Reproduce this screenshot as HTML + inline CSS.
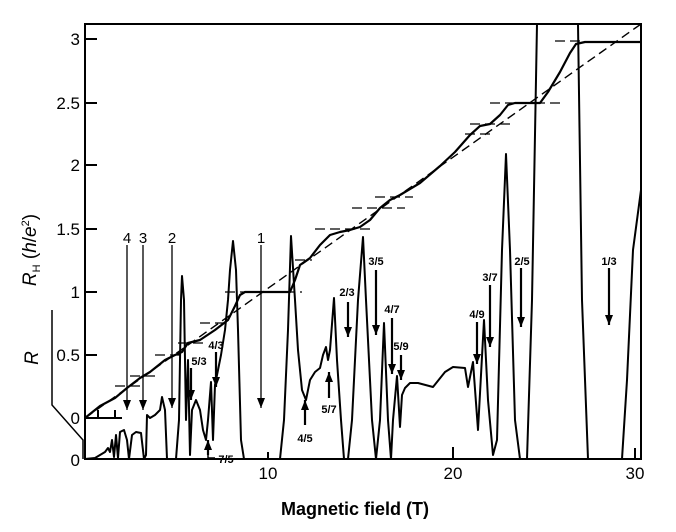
<!DOCTYPE html>
<html><head><style>
html,body{margin:0;padding:0;background:#fff;}
svg{display:block;font-family:"Liberation Sans",Arial,sans-serif;}
</style></head><body>
<svg width="676" height="532" viewBox="0 0 676 532" xmlns="http://www.w3.org/2000/svg">
<defs>
<marker id="ah" markerWidth="10" markerHeight="8" refX="10" refY="4" orient="auto" markerUnits="userSpaceOnUse" viewBox="0 0 10 8">
<path d="M0,0 L10,4 L0,8 Z" fill="#000"/></marker>
</defs>
<g fill="none" stroke="#000" stroke-width="2">
<path d="M85,24 H641 V459 H85 Z"/>
<path d="M85,39 H97 M85,103 H97 M85,165 H97 M85,229 H97 M85,292 H97 M85,355 H97 M85,418 H122 M98,418 V410 M115,418 V410"/>
<path d="M268,459 V452 M453,459 V447 M635,459 V448"/>
<path d="M52,310 V405 L83,440 V459" stroke-width="1.5"/>
</g>
<path d="M85,418 L641,24" stroke="#000" stroke-width="1.4" stroke-dasharray="9,5" fill="none"/>
<g stroke="#000" stroke-width="1.3" stroke-dasharray="10,5">
<path d="M115,386 H140 M130,376 H157 M155,355 H182 M178,343 H205 M200,323 H228 M225,292 H302 M295,260 H312 M315,229 H375 M352,208 H405 M375,197 H413 M465,134 H490 M470,124 H510 M490,103 H560 M555,41 H585"/>
</g>
<path fill="none" stroke="#000" stroke-width="2.2" stroke-linejoin="round" d="M85,418 L100,406 L115,398 L127,388 L140,378 L150,372 L165,360 L175,355 L182,352 L188,343 L200,340 L215,330 L228,320 L235,306 L240,295 L245,292 L290,292 L295,280 L300,265 L310,258 L320,245 L330,235 L340,232 L350,230 L360,227 L370,220 L380,208 L390,200 L400,195 L420,183 L440,166 L455,152 L470,135 L480,126 L490,124 L500,115 L508,105 L515,103 L540,103 L548,92 L560,72 L570,53 L576,44 L585,42 L641,42"/>
<path fill="none" stroke="#000" stroke-width="2" stroke-linejoin="round" d="M85,459 L95,458 L100,455 L105,452 L108,448 L110,452 L112,440 L114,457 L116,435 L118,458 L120,432 L124,430 L127,440 L129,459 L132,435 L136,432 L141,433 L144,459 L146,455 L147,415 L150,418 L155,415 L160,410 L162,397 L165,410 L167,459 L176,459 L179,420 L181,300 L182,276 L184,300 L186,420 L188,360 L190,455 L192,410 L196,400 L200,410 L203,430 L206,440 L208,420 L211,382 L213,440 L215,385 L218,370 L221,355 L225,330 L228,300 L230,270 L233,241 L236,270 L238,330 L241,440 L244,459 L280,459 L284,420 L288,330 L291,236 L295,300 L298,350 L302,390 L306,400 L310,380 L315,372 L320,368 L323,355 L326,347 L328,360 L330,350 L334,298 L337,360 L341,420 L344,459 L348,459 L352,420 L358,300 L363,237 L366,300 L372,420 L376,459 L380,420 L384,323 L388,420 L391,459 L393,420 L397,376 L400,427 L402,395 L405,388 L410,383 L418,383 L433,387 L445,372 L453,367 L465,368 L468,387 L473,362 L478,430 L484,320 L488,400 L493,455 L497,440 L502,250 L506,154 L510,250 L515,420 L520,459 L527,459 L532,300 L537,24 M578,24 L582,300 L588,459 L622,459 L627,380 L633,250 L641,190"/>
<g stroke="#000" stroke-width="1.3" marker-end="url(#ah)">
<line x1="127" y1="245" x2="127" y2="410"/>
<line x1="143" y1="245" x2="143" y2="410"/>
<line x1="172" y1="245" x2="172" y2="408"/>
<line x1="261" y1="245" x2="261" y2="408"/>
</g>
<g font-size="15" text-anchor="middle">
<text x="127" y="243">4</text><text x="143" y="243">3</text><text x="172" y="243">2</text><text x="261" y="243">1</text>
</g>
<g stroke="#000" stroke-width="2.2" marker-end="url(#ah)">
<line x1="191" y1="368" x2="191" y2="400"/>
<line x1="216" y1="352" x2="216" y2="387"/>
<line x1="208" y1="455" x2="208" y2="440"/>
<line x1="305" y1="425" x2="305" y2="400"/>
<line x1="329" y1="398" x2="329" y2="372"/>
<line x1="348" y1="302" x2="348" y2="337"/>
<line x1="376" y1="270" x2="376" y2="335"/>
<line x1="392" y1="318" x2="392" y2="374"/>
<line x1="401" y1="355" x2="401" y2="380"/>
<line x1="477" y1="322" x2="477" y2="364"/>
<line x1="490" y1="285" x2="490" y2="347"/>
<line x1="521" y1="268" x2="521" y2="327"/>
<line x1="609" y1="268" x2="609" y2="325"/>
</g>
<path d="M208,455 V458 H215" stroke="#000" stroke-width="1.5" fill="none"/>
<g font-size="11" font-weight="bold" text-anchor="middle">
<text x="199" y="365">5/3</text>
<text x="216" y="349">4/3</text>
<text x="226" y="463">7/5</text>
<text x="305" y="442">4/5</text>
<text x="329" y="413">5/7</text>
<text x="347" y="296">2/3</text>
<text x="376" y="265">3/5</text>
<text x="392" y="313">4/7</text>
<text x="401" y="350">5/9</text>
<text x="477" y="318">4/9</text>
<text x="490" y="281">3/7</text>
<text x="522" y="265">2/5</text>
<text x="609" y="265">1/3</text>
</g>
<g font-size="17" text-anchor="end">
<text x="80" y="45">3</text><text x="80" y="109">2.5</text><text x="80" y="171">2</text>
<text x="80" y="235">1.5</text><text x="80" y="298">1</text><text x="80" y="361">0.5</text>
<text x="80" y="424">0</text><text x="80" y="466">0</text>
</g>
<g font-size="17" text-anchor="middle">
<text x="268" y="479">10</text><text x="453" y="479">20</text><text x="635" y="479">30</text>
</g>
<text x="355" y="515" font-size="18" font-weight="bold" text-anchor="middle">Magnetic field (T)</text>
<text transform="translate(36,250) rotate(-90)" font-size="19" text-anchor="middle"><tspan font-style="italic">R</tspan><tspan font-size="11" dy="4">H</tspan><tspan dy="-4"> (</tspan><tspan font-style="italic">h</tspan>/<tspan font-style="italic">e</tspan><tspan font-size="11" dy="-7">2</tspan><tspan dy="7">)</tspan></text>
<text transform="translate(38,358) rotate(-90)" font-size="19" font-style="italic" text-anchor="middle">R</text>
</svg>
</body></html>
